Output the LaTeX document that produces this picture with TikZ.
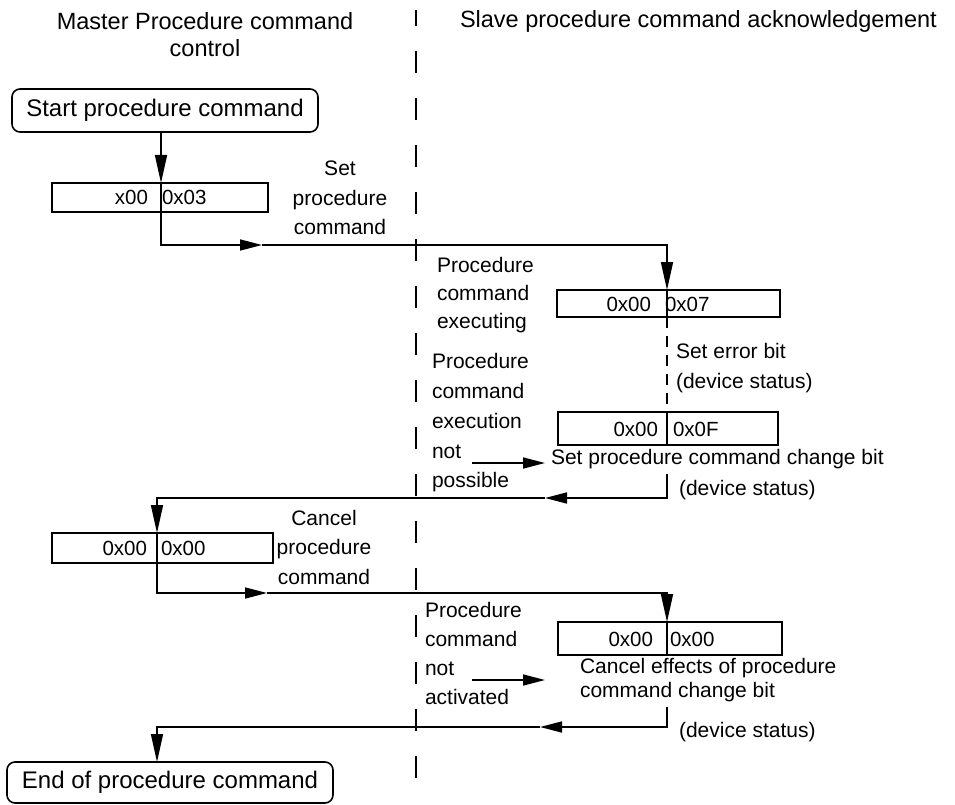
\documentclass[tikz,border=0pt]{standalone}
\usepackage{fontspec}
\setmainfont{Liberation Sans}
\usetikzlibrary{arrows.meta}
\begin{document}
\begin{tikzpicture}[x=1pt,y=-1pt,
  every node/.style={inner sep=0pt, outer sep=0pt},
  body/.style={font=\fontsize{21}{29.5}\selectfont},
  regtext/.style={font=\fontsize{20.5}{24}\selectfont},
  titletext/.style={font=\fontsize{23.5}{27}\selectfont},
  term/.style={draw, line width=1.6pt, rounded corners=8pt, font=\fontsize{24}{28}\selectfont},
  regbox/.style={draw, line width=1.6pt},
  flow/.style={line width=1.6pt},
  tipv/.style={-{Triangle[length=28pt,width=12pt]}},
  tiph/.style={-{Triangle[length=22pt,width=11pt]}},
  lane/.style={line width=2pt, dash pattern=on 22pt off 25pt},
  cont/.style={line width=1.3pt, dash pattern=on 11pt off 8pt}
]
\fill[white] (0,0) rectangle (955,805);
\useasboundingbox (0,0) rectangle (955,805);

% swimlane separator
\coordinate (laneB) at (416,778);
\coordinate (laneT) at (416,10);
\draw[lane] (laneB) -- (laneT);

% titles
\node[titletext, align=center] (tmaster) at (205,35) {Master Procedure command\\control};
\node[titletext, anchor=west] (tslave) at (460,21) {Slave procedure command acknowledgement};

% divider x positions
\coordinate (d1) at (161,0);
\coordinate (d2) at (667,0);
\coordinate (d4) at (157,0);

% terminals
\node[term, minimum width=306pt, minimum height=43pt] (start) at (165,110.5) {Start procedure command};
\node[term, minimum width=326pt, minimum height=41pt] (end) at (170,782.5) {End of procedure command};

% register boxes
\node[regbox, minimum width=216pt, minimum height=29pt] (b1) at (160,197.5) {};
\node[regtext, anchor=east] (b1l) at (148,197.5) {x00};
\node[regtext, anchor=west] (b1r) at (162,197.5) {0x03};
\draw[flow] (b1.north -| d1) -- (b1.south -| d1);

\node[regbox, minimum width=223pt, minimum height=27pt] (b2) at (668.5,303.5) {};
\node[regtext, anchor=east] (b2l) at (651,304) {0x00};
\node[regtext, anchor=west] (b2r) at (665,304) {0x07};
\draw[flow] (b2.north -| d2) -- (b2.south -| d2);

\node[regbox, minimum width=220pt, minimum height=33pt] (b3) at (668,428.5) {};
\node[regtext, anchor=east] (b3l) at (658,429) {0x00};
\node[regtext, anchor=west] (b3r) at (673,429) {0x0F};
\draw[flow] (b3.north -| d2) -- (b3.south -| d2);

\node[regbox, minimum width=221pt, minimum height=30pt] (b4) at (162.5,548) {};
\node[regtext, anchor=east] (b4l) at (147,548.5) {0x00};
\node[regtext, anchor=west] (b4r) at (161,548.5) {0x00};
\draw[flow] (b4.north -| d4) -- (b4.south -| d4);

\node[regbox, minimum width=224pt, minimum height=33pt] (b5) at (670,638.5) {};
\node[regtext, anchor=east] (b5l) at (653,639) {0x00};
\node[regtext, anchor=west] (b5r) at (670,639) {0x00};
\draw[flow] (b5.north -| d2) -- (b5.south -| d2);

% labels
\node[body, align=center] (lset) at (340,198) {Set\\procedure\\command};
\node[body, align=left, anchor=west, font=\fontsize{21}{28}\selectfont] (lexec) at (437,295) {Procedure\\command\\executing};
\node[body, align=left, anchor=west, font=\fontsize{21}{29.75}\selectfont] (lnotp) at (432,423) {Procedure\\command\\execution\\not\\possible};
\node[body, align=left, anchor=west, font=\fontsize{21}{30}\selectfont] (lerr) at (676,368) {Set error bit\\(device status)};
\node[body, anchor=west, outer ysep=5pt] (chg) at (551,459) {Set procedure command change bit};
\node[body, anchor=west] (ds1) at (679,490) {(device status)};
\node[body, align=center] (lcan) at (324,547) {Cancel\\procedure\\command};
\node[body, align=left, anchor=west, font=\fontsize{21}{29}\selectfont] (lnota) at (425,653.5) {Procedure\\command\\not\\activated};
\node[body, align=left, anchor=west, font=\fontsize{21}{24}\selectfont, outer ysep=5pt] (cef) at (580,680) {Cancel effects of procedure\\command change bit};
\node[body, anchor=west] (ds2) at (679,732) {(device status)};

% connectors
\coordinate (m1) at (262,245);
\coordinate (m2) at (545,498);
\coordinate (m3) at (267,593);
\coordinate (m4) at (540,727);

\draw[flow,tipv] (start.south -| d1) -- (b1.north -| d1);
\draw[flow,tiph] (b1.south -| d1) |- (m1);
\draw[flow,tipv] (m1) -| (b2.north -| d2);
\draw[cont] (b2.south -| d2) -- (b3.north -| d2);
\draw[flow,tiph] (chg.south -| d2) |- (m2);
\draw[flow,tipv] (m2) -| (b4.north -| d4);
\draw[flow,tiph] (b4.south -| d4) |- (m3);
\draw[flow,tipv] (m3) -| (b5.north -| d2);
\draw[flow,tiph] (cef.south -| d2) |- (m4);
\draw[flow,tipv] (m4) -| (end.north -| d4);

% small arrows
\coordinate (s1a) at (472,463);
\coordinate (s1b) at (545,463);
\draw[flow,tiph] (s1a) -- (s1b);
\coordinate (s2a) at (472,680);
\coordinate (s2b) at (545,680);
\draw[flow,tiph] (s2a) -- (s2b);
\end{tikzpicture}
\end{document}
